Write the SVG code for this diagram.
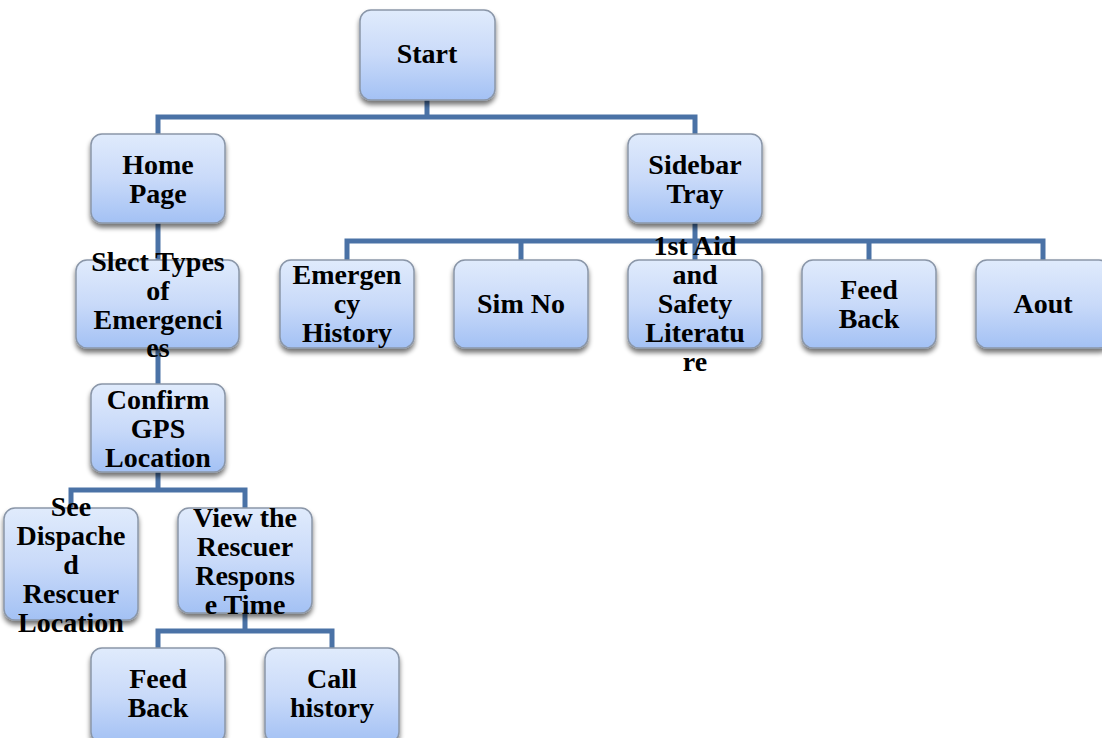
<svg xmlns="http://www.w3.org/2000/svg" width="1102" height="738" viewBox="0 0 1102 738">
<defs>
<linearGradient id="g" x1="0" y1="0" x2="0" y2="1">
<stop offset="0" stop-color="#e0ebfc"/>
<stop offset="0.5" stop-color="#c9daf9"/>
<stop offset="1" stop-color="#a3c1f4"/>
</linearGradient>
<filter id="sh" x="-10%" y="-10%" width="125%" height="135%">
<feGaussianBlur in="SourceAlpha" stdDeviation="2.5"/>
<feOffset dx="0" dy="4"/>
<feComponentTransfer><feFuncA type="linear" slope="0.55"/></feComponentTransfer>
<feMerge><feMergeNode/><feMergeNode in="SourceGraphic"/></feMerge>
</filter>
</defs>
<style>
.b{fill:url(#g);stroke:#8a96a8;stroke-width:1.5;filter:url(#sh)}
.t{font-family:"Liberation Serif","Times New Roman",serif;font-weight:bold;font-size:28px;fill:#000;text-anchor:middle}
.c{fill:none;stroke:#4a72a6;stroke-width:5;stroke-linejoin:miter}
</style>
<rect width="1102" height="738" fill="#fff"/>
<g id="connectors">
<path class="c" d="M427 100V117M158 135V117H695V135"/>
<path class="c" d="M695 223V241M347 260V241H1043V260M521 241V260M695 241V260M869 241V260"/>
<path class="c" d="M158 223V260M158 348V384"/>
<path class="c" d="M158 472V490M71 508V490H245V508"/>
<path class="c" d="M245 613V631M158 648V631H332V648"/>
</g>
<g id="start"><rect class="b" x="360" y="10" width="135" height="90" rx="11"/><text class="t" x="427" y="63">Start</text></g>
<g id="home"><rect class="b" x="91" y="134" width="134" height="89" rx="11"/><text class="t" x="158" y="174">Home</text><text class="t" x="158" y="203">Page</text></g>
<g id="sidebar"><rect class="b" x="628" y="134" width="134" height="89" rx="11"/><text class="t" x="695" y="174">Sidebar</text><text class="t" x="695" y="203">Tray</text></g>
<g id="slect"><rect class="b" x="76" y="260" width="163" height="88" rx="11"/><text class="t" x="158" y="271">Slect Types</text><text class="t" x="158" y="300">of</text><text class="t" x="158" y="329">Emergenci</text><text class="t" x="158" y="357">es</text></g>
<g id="confirm"><rect class="b" x="91" y="384" width="134" height="88" rx="11"/><text class="t" x="158" y="409">Confirm</text><text class="t" x="158" y="438">GPS</text><text class="t" x="158" y="467">Location</text></g>
<g id="emhist"><rect class="b" x="280" y="260" width="134" height="88" rx="11"/><text class="t" x="347" y="284">Emergen</text><text class="t" x="347" y="313">cy</text><text class="t" x="347" y="342">History</text></g>
<g id="simno"><rect class="b" x="454" y="260" width="134" height="88" rx="11"/><text class="t" x="521" y="313">Sim No</text></g>
<g id="firstaid"><rect class="b" x="628" y="260" width="134" height="88" rx="11"/><text class="t" x="695" y="255">1st Aid</text><text class="t" x="695" y="284">and</text><text class="t" x="695" y="313">Safety</text><text class="t" x="695" y="342">Literatu</text><text class="t" x="695" y="371">re</text></g>
<g id="feedback1"><rect class="b" x="802" y="260" width="134" height="88" rx="11"/><text class="t" x="869" y="299">Feed</text><text class="t" x="869" y="328">Back</text></g>
<g id="aout"><rect class="b" x="976" y="260" width="134" height="88" rx="11"/><text class="t" x="1043" y="313">Aout</text></g>
<g id="seedisp"><rect class="b" x="4" y="508" width="134" height="112" rx="11"/><text class="t" x="71" y="516">See</text><text class="t" x="71" y="545">Dispache</text><text class="t" x="71" y="574">d</text><text class="t" x="71" y="603">Rescuer</text><text class="t" x="71" y="632">Location</text></g>
<g id="viewresc"><rect class="b" x="178" y="508" width="134" height="105" rx="11"/><text class="t" x="245" y="527">View the</text><text class="t" x="245" y="556">Rescuer</text><text class="t" x="245" y="585">Respons</text><text class="t" x="245" y="614">e Time</text></g>
<g id="feedback2"><rect class="b" x="91" y="648" width="134" height="95" rx="11"/><text class="t" x="158" y="688">Feed</text><text class="t" x="158" y="717">Back</text></g>
<g id="callhist"><rect class="b" x="265" y="648" width="134" height="95" rx="11"/><text class="t" x="332" y="688">Call</text><text class="t" x="332" y="717">history</text></g>
</svg>
